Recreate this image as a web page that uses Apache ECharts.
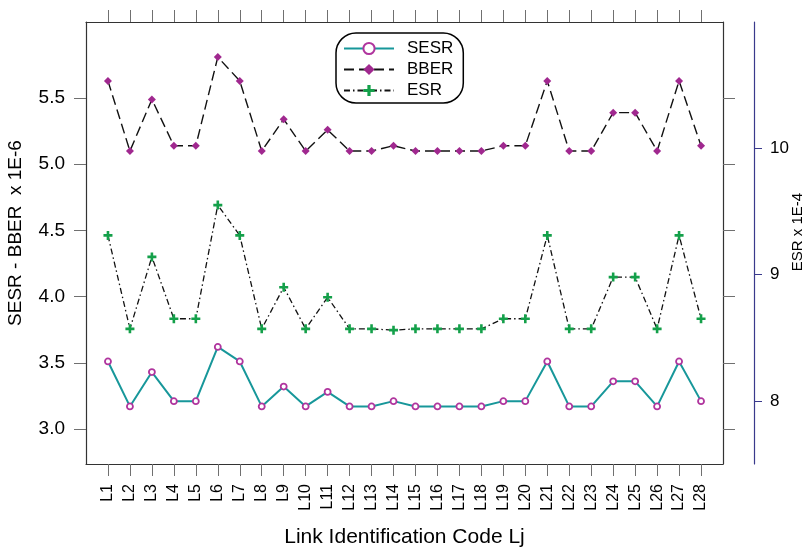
<!DOCTYPE html>
<html>
<head>
<meta charset="utf-8">
<script src="https://cdn.jsdelivr.net/npm/echarts@6/dist/echarts.min.js"></script>
<style>
  html, body { margin: 0; padding: 0; background: #fff; }
  #chart { width: 806px; height: 549px; }
</style>
</head>
<body>
<div id="chart"></div>
<script>
// Link codes along the x axis
var linkCodes = ['L1','L2','L3','L4','L5','L6','L7','L8','L9','L10','L11','L12','L13','L14',
                 'L15','L16','L17','L18','L19','L20','L21','L22','L23','L24','L25','L26','L27','L28'];

// SESR and BBER (x 1E-6, left axis)
var sesr = [3.51,3.17,3.43,3.21,3.21,3.62,3.51,3.17,3.32,3.17,3.28,3.17,3.17,3.21,
            3.17,3.17,3.17,3.17,3.21,3.21,3.51,3.17,3.17,3.36,3.36,3.17,3.51,3.21];
var bber = [5.63,5.10,5.49,5.14,5.14,5.81,5.63,5.10,5.34,5.10,5.26,5.10,5.10,5.14,
            5.10,5.10,5.10,5.10,5.14,5.14,5.63,5.10,5.10,5.39,5.39,5.10,5.63,5.14];

// ESR (x 1E-4, right axis)
var esr = [9.31,8.57,9.14,8.65,8.65,9.55,9.31,8.57,8.90,8.57,8.82,8.57,8.57,8.56,
           8.57,8.57,8.57,8.57,8.65,8.65,9.31,8.57,8.57,8.98,8.98,8.57,9.31,8.65];

// Tick labels
var leftTicks = [3.0, 3.5, 4.0, 4.5, 5.0, 5.5];
var rightTicks = [8, 9, 10];

// Axis titles
var leftTitle = 'SESR - BBER  x 1E-6';
var rightTitle = 'ESR x 1E-4';
var bottomTitle = 'Link Identification Code Lj';

var FONT = 'Liberation Sans, Arial, sans-serif';
var BOX = '#333333';
var TICK = '#707070';

// one empty slot on each side so the first/last link sit a full step inside the frame
var xSlots = [''].concat(linkCodes).concat(['']);
var hasCode = function (idx, val) { return val !== ''; };

function pairs(values) {
  return linkCodes.map(function (c, i) { return [c, values[i]]; });
}

var plusPath = 'path://M3.2,0 H5.8 V3.2 H9 V5.8 H5.8 V9 H3.2 V5.8 H0 V3.2 H3.2 Z';

var chart = echarts.init(document.getElementById('chart'), null, { renderer: 'canvas' });

chart.setOption({
  backgroundColor: '#ffffff',
  animation: false,
  textStyle: { fontFamily: FONT },
  grid: { left: 86, right: 83, top: 22, bottom: 85, containLabel: false, outerBoundsMode: 'none' },
  legend: {
    orient: 'vertical',
    left: 336,
    top: 33,
    padding: [7, 10, 4, 7],
    itemWidth: 50,
    itemHeight: 14,
    itemGap: 4,
    borderColor: '#000',
    borderWidth: 1.5,
    borderRadius: 20,
    textStyle: { fontFamily: FONT, fontSize: 17, lineHeight: 17, color: '#000', padding: [0, 0, 0, 8] },
    data: ['SESR', 'BBER', 'ESR']
  },
  graphic: [
    {
      type: 'text',
      x: 16,
      y: 233,
      rotation: Math.PI / 2,
      style: { text: leftTitle, font: '19px ' + FONT, fill: '#000', textAlign: 'center', textVerticalAlign: 'middle' }
    },
    {
      type: 'text',
      x: 798,
      y: 232,
      rotation: Math.PI / 2,
      style: { text: rightTitle, font: '15px ' + FONT, fill: '#000', textAlign: 'center', textVerticalAlign: 'middle' }
    }
  ],
  xAxis: [
    {
      type: 'category',
      position: 'bottom',
      data: xSlots,
      boundaryGap: false,
      name: bottomTitle,
      nameLocation: 'middle',
      nameGap: 63,
      nameTextStyle: { fontFamily: FONT, fontSize: 21, color: '#000' },
      axisLine: { show: true, lineStyle: { color: BOX, width: 1.2 } },
      axisTick: { show: true, inside: false, length: 12, interval: hasCode, lineStyle: { color: TICK, width: 1 } },
      axisLabel: { interval: 0, rotate: 90, margin: 20, fontSize: 16, fontFamily: FONT, color: '#000' },
      splitLine: { show: false }
    },
    {
      type: 'category',
      position: 'top',
      data: xSlots,
      boundaryGap: false,
      axisLine: { show: true, lineStyle: { color: BOX, width: 1.2 } },
      axisTick: { show: true, inside: false, length: 12, interval: hasCode, lineStyle: { color: TICK, width: 1 } },
      axisLabel: { show: false },
      splitLine: { show: false }
    }
  ],
  yAxis: [
    {
      type: 'value',
      position: 'left',
      min: 2.735,
      max: 6.075,
      axisLine: { show: true, lineStyle: { color: BOX, width: 1.2 } },
      axisTick: { show: true, inside: false, length: 12, customValues: leftTicks, lineStyle: { color: TICK, width: 1 } },
      axisLabel: {
        customValues: leftTicks,
        margin: 21,
        fontSize: 19,
        fontFamily: FONT,
        color: '#000',
        formatter: function (v) { return v.toFixed(1); }
      },
      splitLine: { show: false }
    },
    {
      type: 'value',
      position: 'right',
      offset: 31,
      min: 7.5,
      max: 11,
      axisLine: { show: true, lineStyle: { color: '#3a3a8c', width: 1.2 } },
      axisTick: { show: true, inside: false, length: 8, customValues: rightTicks, lineStyle: { color: '#3a3a8c', width: 1 } },
      axisLabel: { customValues: rightTicks, margin: 16, fontSize: 17, fontFamily: FONT, color: '#000' },
      splitLine: { show: false }
    },
    {
      // right edge of the frame, echoing the left scale ticks
      type: 'value',
      position: 'right',
      offset: 0,
      min: 2.735,
      max: 6.075,
      axisLine: { show: true, lineStyle: { color: BOX, width: 1.2 } },
      axisTick: { show: true, inside: false, length: 12, customValues: leftTicks, lineStyle: { color: TICK, width: 1 } },
      axisLabel: { show: false },
      splitLine: { show: false }
    }
  ],
  series: [
    {
      name: 'SESR',
      type: 'line',
      xAxisIndex: 0,
      yAxisIndex: 0,
      data: pairs(sesr),
      symbol: 'circle',
      symbolSize: 6,
      showAllSymbol: true,
      color: '#17979a',
      lineStyle: { color: '#17979a', width: 2 },
      itemStyle: { color: '#ffffff', borderColor: '#b0359e', borderWidth: 1.8 },
      z: 3
    },
    {
      name: 'BBER',
      type: 'line',
      xAxisIndex: 0,
      yAxisIndex: 0,
      data: pairs(bber),
      symbol: 'diamond',
      symbolSize: 8,
      showAllSymbol: true,
      color: '#000000',
      lineStyle: { color: '#111111', width: 1.4, type: [10, 5] },
      itemStyle: { color: '#a0288f', borderWidth: 0 },
      z: 3
    },
    {
      name: 'ESR',
      type: 'line',
      xAxisIndex: 0,
      yAxisIndex: 1,
      data: pairs(esr),
      symbol: plusPath,
      symbolSize: 9,
      showAllSymbol: true,
      color: '#000000',
      lineStyle: { color: '#111111', width: 1.3, type: [6, 3, 1.5, 3] },
      itemStyle: { color: '#14a04a', borderWidth: 0 },
      z: 3
    }
  ]
});
</script>
</body>
</html>
